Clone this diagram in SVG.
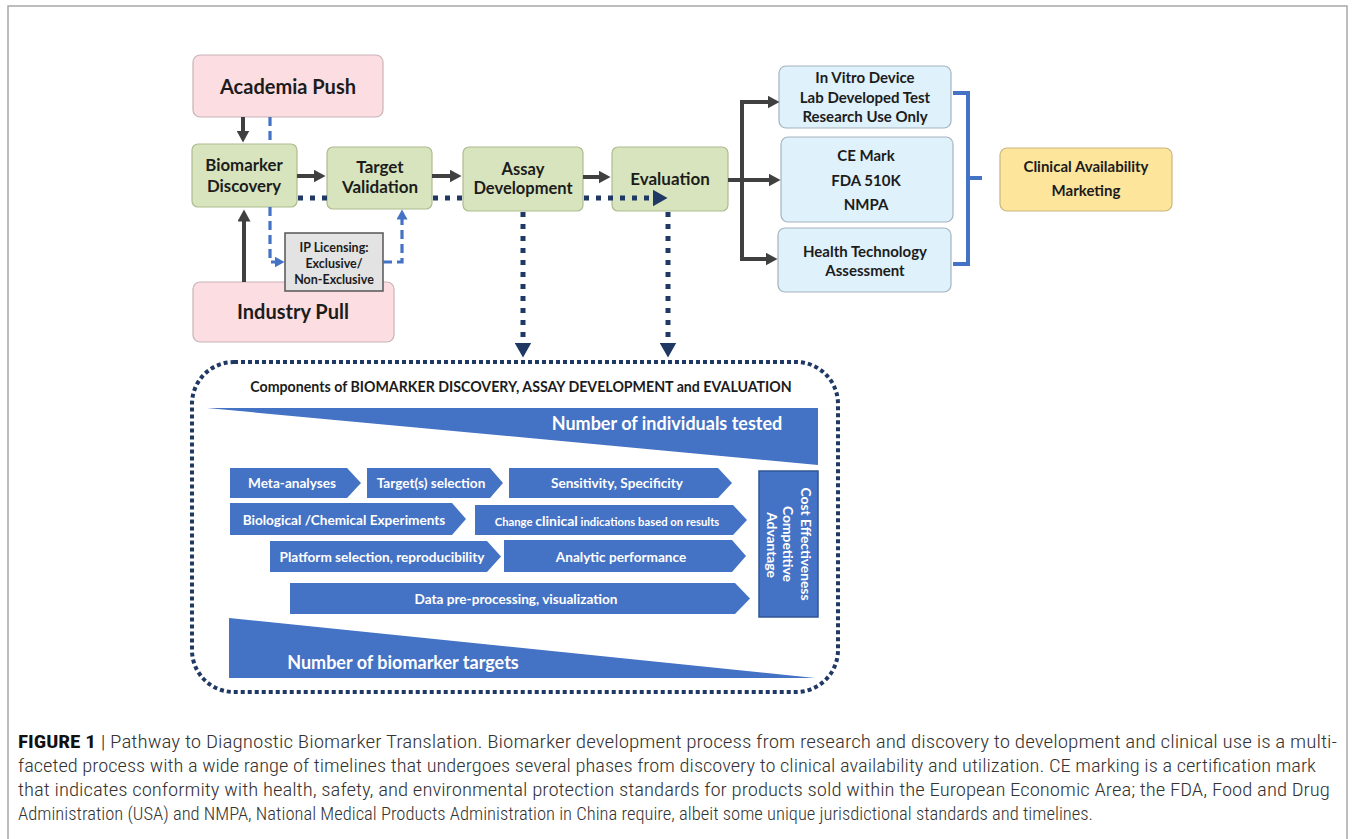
<svg xmlns="http://www.w3.org/2000/svg" width="1354" height="839" viewBox="0 0 1354 839">
<defs>
<style>
.nt{font-family:Lato,"Open Sans","Liberation Sans",sans-serif;font-weight:700;fill:#1c1c1c;text-anchor:middle}
.wt{font-family:Lato,"Open Sans","Liberation Sans",sans-serif;font-weight:700;fill:#ffffff;text-anchor:middle}
.pink{fill:#fcdde1;stroke:#c8b4b7;stroke-width:1.2}
.green{fill:#d8e4bd;stroke:#aebb8f;stroke-width:1.2}
.lblue{fill:#dff1fb;stroke:#a3b4c0;stroke-width:1.2}
.yel{fill:#fde59c;stroke:#c9b67e;stroke-width:1.2}
.chev{fill:#4472c4}
.dark{fill:none;stroke:#404040;stroke-width:4}
.bdash{fill:none;stroke:#4472c4;stroke-width:3.2;stroke-dasharray:9 5}
.ndot{fill:none;stroke:#1f3864;stroke-width:5;stroke-dasharray:5 7}
.cap{font-family:"Roboto Condensed","Liberation Sans Narrow","Liberation Sans",sans-serif;font-weight:300;font-size:18px;fill:#333333}
</style>
<marker id="ad" markerUnits="userSpaceOnUse" markerWidth="13" markerHeight="13" refX="0.5" refY="6.5" orient="auto"><path d="M0,0 L12,6.5 L0,13 z" fill="#404040"/></marker>
<marker id="ab" markerUnits="userSpaceOnUse" markerWidth="11" markerHeight="11" refX="0.5" refY="5.5" orient="auto"><path d="M0,0 L10,5.5 L0,11 z" fill="#4472c4"/></marker>
<marker id="an" markerUnits="userSpaceOnUse" markerWidth="16" markerHeight="17" refX="0.5" refY="8.5" orient="auto"><path d="M0,0 L15,8.5 L0,17 z" fill="#1f3864"/></marker>
</defs>
<rect x="0" y="0" width="1354" height="839" fill="#ffffff"/>
<rect x="8" y="6" width="1339" height="845" fill="none" stroke="#a8a8a8" stroke-width="1.5"/>

<g id="academia-push"><rect class="pink" x="193" y="55" width="190" height="62" rx="7"/><text class="nt" x="288" y="94" font-size="20">Academia Push</text></g>
<g id="biomarker-discovery"><rect class="green" x="192" y="144" width="105" height="63" rx="6"/><text class="nt" x="244" y="171" font-size="16.8">Biomarker</text><text class="nt" x="244" y="192" font-size="16.8">Discovery</text></g>
<g id="target-validation"><rect class="green" x="327" y="147" width="105" height="62" rx="6"/><text class="nt" x="380" y="173" font-size="17">Target</text><text class="nt" x="380" y="193" font-size="17">Validation</text></g>
<g id="assay-development"><rect class="green" x="463" y="147" width="120" height="64" rx="6"/><text class="nt" x="523" y="175" font-size="16.5">Assay</text><text class="nt" x="523" y="194" font-size="16.5">Development</text></g>
<g id="evaluation"><rect class="green" x="612" y="147" width="116" height="64" rx="6"/><text class="nt" x="670" y="185" font-size="17">Evaluation</text></g>
<g id="industry-pull"><rect class="pink" x="193" y="282" width="201" height="60" rx="7"/><text class="nt" x="293" y="319" font-size="20">Industry Pull</text></g>
<g id="ip-licensing"><rect x="285" y="233" width="98" height="58" fill="#e3e3e3" stroke="#555555" stroke-width="1.5"/><text class="nt" x="334" y="252" font-size="12.5">IP Licensing:</text><text class="nt" x="334" y="268" font-size="12.5">Exclusive/</text><text class="nt" x="334" y="284" font-size="12.5">Non-Exclusive</text></g>
<g id="in-vitro"><rect class="lblue" x="779" y="66" width="172" height="62" rx="7"/><text class="nt" x="865" y="83" font-size="15">In Vitro Device</text><text class="nt" x="865" y="103" font-size="15">Lab Developed Test</text><text class="nt" x="865" y="122" font-size="15">Research Use Only</text></g>
<g id="ce-mark"><rect class="lblue" x="781" y="137" width="172" height="85" rx="7"/><text class="nt" x="866" y="161" font-size="15">CE Mark</text><text class="nt" x="866" y="186" font-size="15">FDA 510K</text><text class="nt" x="866" y="210" font-size="15">NMPA</text></g>
<g id="hta"><rect class="lblue" x="778" y="228" width="173" height="64" rx="7"/><text class="nt" x="865" y="257" font-size="15">Health Technology</text><text class="nt" x="865" y="276" font-size="15">Assessment</text></g>
<g id="clinical-availability"><rect class="yel" x="1000" y="148" width="172" height="63" rx="7"/><text class="nt" x="1086" y="172" font-size="15">Clinical Availability</text><text class="nt" x="1086" y="196" font-size="15">Marketing</text></g>

<g id="connectors">
<path class="dark" d="M243,117 V131" marker-end="url(#ad)"/>
<path class="dark" d="M244,282 V221" marker-end="url(#ad)"/>
<path class="dark" d="M297,176 H314" marker-end="url(#ad)"/>
<path class="dark" d="M432,176 H450" marker-end="url(#ad)"/>
<path class="dark" d="M583,177 H599" marker-end="url(#ad)"/>
<path class="dark" d="M728,180 H742 M742,100 V261"/>
<path class="dark" d="M740,102 H768" marker-end="url(#ad)"/>
<path class="dark" d="M742,180 H769" marker-end="url(#ad)"/>
<path class="dark" d="M740,259 H766" marker-end="url(#ad)"/>
<path class="bdash" d="M270,117 V144"/>
<path class="bdash" d="M270,207 V262 H275" marker-end="url(#ab)"/>
<path class="bdash" d="M383,262 H402 V219" marker-end="url(#ab)"/>
<path class="ndot" stroke-width="4" d="M298,198 H327 M433,198 H463 M584,198 H653" marker-end="url(#an)"/>
<path class="ndot" d="M523,212 V343" marker-end="url(#an)"/>
<path class="ndot" d="M668,212 V343" marker-end="url(#an)"/>
<path d="M953,93 H968 V264 H953 M968,178 H982" fill="none" stroke="#4472c4" stroke-width="4"/>
</g>

<g id="components-panel">
<rect x="192" y="362" width="646" height="330" rx="42" fill="none" stroke="#1f3864" stroke-width="4" stroke-dasharray="4 3"/>
<text class="nt" x="521" y="392" font-size="14.2">Components of BIOMARKER DISCOVERY, ASSAY DEVELOPMENT and EVALUATION</text>
<polygon class="chev" points="207,408 818,408 818,465"/>
<text class="wt" x="667" y="430" font-size="18">Number of individuals tested</text>
<polygon class="chev" points="229,618 815,678 229,678"/>
<text class="wt" x="403" y="669" font-size="18">Number of biomarker targets</text>
<polygon class="chev" points="230,468 347,468 361,483 347,498 230,498"/>
<text class="wt" x="292" y="488" font-size="13.6">Meta-analyses</text>
<polygon class="chev" points="367,468 490,468 503,483 490,498 367,498"/>
<text class="wt" x="431" y="488" font-size="13.6">Target(s) selection</text>
<polygon class="chev" points="509,468 718,468 732,483 718,498 509,498"/>
<text class="wt" x="617" y="488" font-size="13.6">Sensitivity, Specificity</text>
<polygon class="chev" points="230,503 452,503 466,519 452,535 230,535"/>
<text class="wt" x="344" y="525" font-size="13.6">Biological /Chemical Experiments</text>
<polygon class="chev" points="475,505 733,505 747,520 733,535 475,535"/>
<text class="wt" x="607" y="526" font-size="11.3"><tspan>Change </tspan><tspan font-size="14">clinical</tspan><tspan> indications based on results</tspan></text>
<polygon class="chev" points="270,541 487,541 501,556.5 487,572 270,572"/>
<text class="wt" x="382" y="562" font-size="13.6">Platform selection, reproducibility</text>
<polygon class="chev" points="504,540 732,540 746,556 732,572 504,572"/>
<text class="wt" x="621" y="562" font-size="13.6">Analytic performance</text>
<polygon class="chev" points="290,583 735,583 750,598.5 735,614 290,614"/>
<text class="wt" x="516" y="604" font-size="13.6">Data pre-processing, visualization</text>
<rect x="759" y="471" width="59" height="146" fill="#4472c4" stroke="#2f5597" stroke-width="1.5"/>
<text class="wt" font-size="13.8" transform="translate(800.5,544) rotate(90)">Cost Effectiveness</text>
<text class="wt" font-size="13.8" transform="translate(783,544) rotate(90)">Competitive</text>
<text class="wt" font-size="13.8" transform="translate(766.5,545) rotate(90)">Advantage</text>
</g>

<g id="caption">
<text class="cap" x="18" y="748" textLength="1319" lengthAdjust="spacingAndGlyphs"><tspan font-weight="700" fill="#111111">FIGURE 1</tspan> | Pathway to Diagnostic Biomarker Translation. Biomarker development process from research and discovery to development and clinical use is a multi-</text>
<text class="cap" x="18" y="772" textLength="1298" lengthAdjust="spacingAndGlyphs">faceted process with a wide range of timelines that undergoes several phases from discovery to clinical availability and utilization. CE marking is a certification mark</text>
<text class="cap" x="18" y="796" textLength="1312" lengthAdjust="spacingAndGlyphs">that indicates conformity with health, safety, and environmental protection standards for products sold within the European Economic Area; the FDA, Food and Drug</text>
<text class="cap" x="18" y="820" textLength="1075" lengthAdjust="spacingAndGlyphs">Administration (USA) and NMPA, National Medical Products Administration in China require, albeit some unique jurisdictional standards and timelines.</text>
</g>
</svg>
